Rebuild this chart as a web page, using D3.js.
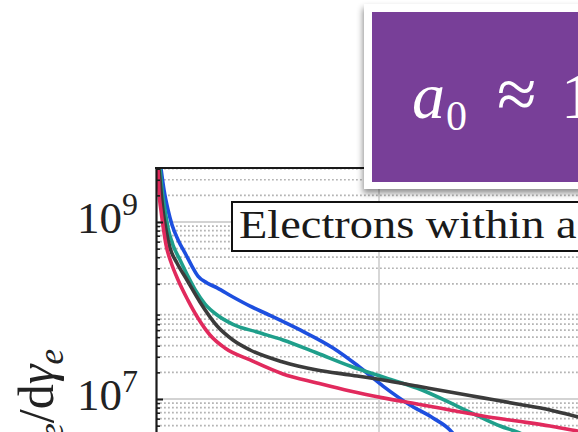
<!DOCTYPE html>
<html>
<head>
<meta charset="utf-8">
<script src="https://cdn.jsdelivr.net/npm/d3@7"></script>
<style>
  html, body { margin: 0; padding: 0; background: #fff; overflow: hidden; }
  svg { display: block; }
</style>
</head>
<body>
<svg id="chart" width="578" height="432"></svg>
<script>
// Electron energy spectra dN/dγ_e (log scale) vs γ_e, four runs.
const blueSeries = [
  [5, 9e9], [22, 4.07e9], [36, 2.30e9], [54, 1.37e9], [72, 9.25e8], [99, 6.27e8],
  [135, 4.24e8], [161, 3.18e8], [188, 2.45e8], [229, 2.05e8], [274, 1.80e8],
  [345, 1.42e8], [422, 1.12e8], [498, 9.13e7], [646, 6.03e7], [794, 3.77e7],
  [901, 2.42e7], [1018, 1.40e7], [1139, 8.55e6], [1242, 6.10e6], [1318, 4.47e6],
  [1363, 3.27e6]
];
const tealSeries = [
  [3, 9e9], [18, 4.07e9], [27, 2.30e9], [40, 1.37e9], [54, 8.55e8], [76, 5.50e8],
  [108, 3.72e8], [143, 2.45e8], [179, 1.66e8], [220, 1.18e8], [274, 8.89e7],
  [345, 6.98e7], [453, 5.71e7], [569, 4.65e7], [722, 3.31e7], [870, 2.36e7],
  [1018, 1.77e7], [1170, 1.33e7], [1350, 8.33e6], [1453, 6.27e6], [1543, 4.95e6],
  [1619, 4.24e6], [1722, 3.27e6]
];
const blackSeries = [
  [2, 9e9], [13, 4.07e9], [22, 2.30e9], [31, 1.37e9], [45, 8.12e8], [63, 5.08e8],
  [94, 3.44e8], [139, 2.21e8], [197, 1.25e8], [274, 6.69e7], [345, 4.65e7],
  [422, 3.58e7], [569, 2.62e7], [722, 2.13e7], [870, 1.87e7], [1018, 1.64e7],
  [1170, 1.40e7], [1318, 1.20e7], [1466, 1.03e7], [1619, 8.79e6], [1767, 7.52e6],
  [1892, 6.27e6], [2081, 5.08e6]
];
const redSeries = [
  [1, 9e9], [9, 4.07e9], [13, 2.30e9], [22, 1.37e9], [31, 9.25e8], [45, 5.50e8],
  [67, 3.53e8], [99, 2.21e8], [143, 1.31e8], [188, 8.23e7], [242, 5.29e7],
  [309, 3.77e7], [422, 2.76e7], [569, 1.92e7], [722, 1.52e7], [870, 1.23e7],
  [1018, 1.03e7], [1170, 8.79e6], [1318, 7.52e6], [1466, 6.43e6], [1619, 5.64e6],
  [1767, 4.95e6], [1892, 4.35e6], [2081, 3.72e6]
];

const seriesList = [blueSeries, tealSeries, blackSeries, redSeries];
const seriesColors = ["#1d4fdf", "#1f9f8b", "#3b3b3b", "#e12a5d"];

const yTickValues = [1e7, 1e9];
const yTickExponents = ["7", "9"];
const xGridValues = [1000, 2000];
const legendTitle = "Electrons within a";
const yLabelParts = [["d", "normal", 0], ["N", "italic", 0], ["e", "italic", 1],
                     ["/d", "normal", 0], ["γ", "italic", 0], ["e", "italic", 1]];

const svg = d3.select("#chart");
const plotLeft = 156, plotTop = 168, plotRight = 760, plotBottom = 640;

const x = d3.scaleLinear().domain([0, 1000]).range([plotLeft, 379]);
const yBase = d3.scaleLog().domain([1e7, 1e9]).range([399, 222]);
const y = yBase.copy().domain([yBase.invert(plotBottom), yBase.invert(plotTop)]).range([plotBottom, plotTop]);

svg.append("defs").append("clipPath").attr("id", "plotClip")
  .append("rect").attr("x", plotLeft).attr("y", plotTop)
  .attr("width", plotRight - plotLeft).attr("height", plotBottom - plotTop);

// minor (dotted) and major (solid) grid
const [yLo, yHi] = y.domain();
const minorVals = [];
for (let d = Math.floor(Math.log10(yLo)); d <= Math.ceil(Math.log10(yHi)); d++) {
  for (let k = 2; k <= 9; k++) {
    const v = k * Math.pow(10, d);
    if (v > yLo && v < yHi) minorVals.push(v);
  }
}
const grid = svg.append("g");
grid.selectAll("line.minor").data(minorVals).join("line")
  .attr("x1", plotLeft).attr("x2", plotRight)
  .attr("y1", d => y(d)).attr("y2", d => y(d))
  .attr("stroke", "#b4b4b4").attr("stroke-width", 1.7)
  .attr("stroke-dasharray", "1.8,2.2");
grid.selectAll("line.majorY").data(yTickValues).join("line")
  .attr("x1", plotLeft).attr("x2", plotRight)
  .attr("y1", d => y(d)).attr("y2", d => y(d))
  .attr("stroke", "#d3d3d3").attr("stroke-width", 1.8);
grid.selectAll("line.majorX").data(xGridValues).join("line")
  .attr("x1", d => x(d)).attr("x2", d => x(d))
  .attr("y1", plotTop).attr("y2", plotBottom)
  .attr("stroke", "#d3d3d3").attr("stroke-width", 1.8);

// spectra
const line = d3.line().x(d => x(d[0])).y(d => y(d[1])).curve(d3.curveMonotoneX);
svg.append("g").attr("clip-path", "url(#plotClip)")
  .selectAll("path").data(seriesList).join("path")
  .attr("d", line).attr("fill", "none")
  .attr("stroke", (d, i) => seriesColors[i])
  .attr("stroke-width", 3.6).attr("stroke-linejoin", "round");

// left axis: major and minor inward ticks
const axisMajor = d3.axisLeft(y).tickValues(yTickValues).tickSizeInner(-7).tickSizeOuter(0).tickFormat("");
const axisMinor = d3.axisLeft(y).tickValues(minorVals).tickSizeInner(-4).tickSizeOuter(0).tickFormat("");
const gMinor = svg.append("g").attr("transform", `translate(${plotLeft},0)`).call(axisMinor);
gMinor.select(".domain").remove();
gMinor.selectAll("line").attr("stroke", "#1a1a1a").attr("stroke-width", 1.6);
const gMajor = svg.append("g").attr("transform", `translate(${plotLeft},0)`).call(axisMajor);
gMajor.select(".domain").attr("stroke", "#1a1a1a").attr("stroke-width", 2.2);
gMajor.selectAll("line").attr("stroke", "#1a1a1a").attr("stroke-width", 2);
// top frame edge
svg.append("line").attr("x1", plotLeft - 1).attr("x2", plotRight)
  .attr("y1", plotTop).attr("y2", plotTop)
  .attr("stroke", "#1a1a1a").attr("stroke-width", 2.2);

// tick labels 10^n
const labels = svg.append("g").attr("font-family", "'Liberation Serif', serif").attr("fill", "#222");
yTickValues.forEach((v, i) => {
  const t = labels.append("text").attr("x", 138).attr("y", y(v) + 11).attr("text-anchor", "end")
    .attr("font-size", 45);
  t.append("tspan").text("10");
  t.append("tspan").attr("dy", -18).attr("font-size", 32).text(yTickExponents[i]);
});

// y-axis title
const yl = svg.append("text")
  .attr("transform", "translate(53,349) rotate(-90)")
  .attr("text-anchor", "end").attr("font-family", "'Liberation Serif', serif")
  .attr("font-size", 50).attr("fill", "#222");
let shift = 0;
yLabelParts.forEach(([txt, style, sub]) => {
  const ts = yl.append("tspan").attr("font-style", style).text(txt);
  const target = sub ? 10 : 0;
  if (target !== shift) { ts.attr("dy", target - shift); shift = target; }
  if (sub) ts.attr("font-size", 35);
});

// legend title box
svg.append("rect").attr("x", 232).attr("y", 202).attr("width", 500).attr("height", 49)
  .attr("fill", "#fff").attr("stroke", "#111").attr("stroke-width", 2);
svg.append("text").attr("transform", "translate(239,238) scale(1.19,1)")
  .attr("font-family", "'Liberation Serif', serif").attr("font-size", 39)
  .attr("fill", "#1a1a1a").text(legendTitle);

// annotation panel
const f = svg.select("defs").append("filter").attr("id", "shadow")
  .attr("x", "-10%").attr("y", "-10%").attr("width", "130%").attr("height", "130%");
f.append("feDropShadow").attr("dx", -1).attr("dy", 4).attr("stdDeviation", 3)
  .attr("flood-color", "#000").attr("flood-opacity", 0.45);
svg.append("rect").attr("x", 364).attr("y", 4).attr("width", 400).attr("height", 185)
  .attr("fill", "#fff").attr("filter", "url(#shadow)");
svg.append("rect").attr("x", 372).attr("y", 12).attr("width", 400).attr("height", 170)
  .attr("fill", "#783f98");
const ann = svg.append("text").attr("font-family", "'Liberation Serif', serif").attr("fill", "#fff");
ann.append("tspan").attr("x", 412).attr("y", 118).attr("font-size", 66).attr("font-style", "italic").text("a");
ann.append("tspan").attr("x", 446).attr("y", 130).attr("font-size", 42).text("0");
ann.append("tspan").attr("x", 497).attr("y", 118).attr("font-size", 72).text("≈");
ann.append("tspan").attr("x", 561).attr("y", 118).attr("font-size", 66).text("10");
</script>
</body>
</html>
